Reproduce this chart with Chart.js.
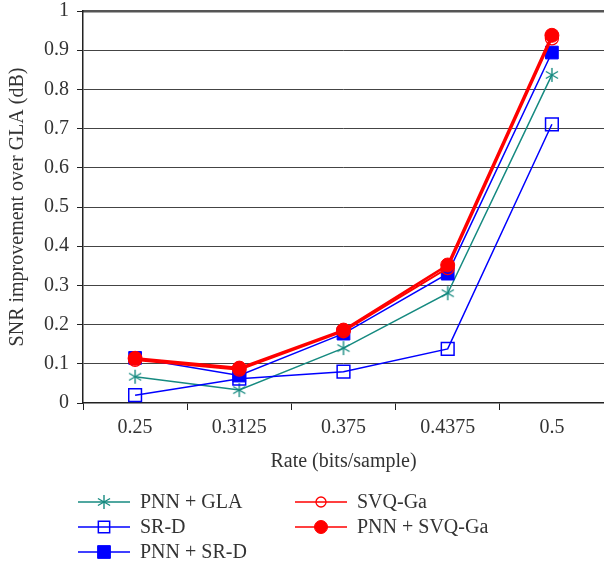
<!DOCTYPE html>
<html>
<head>
<meta charset="utf-8">
<script src="https://cdn.jsdelivr.net/npm/chart.js@4.4.1/dist/chart.umd.min.js"></script>
<style>
  html, body { margin: 0; padding: 0; background: #fff; }
</style>
</head>
<body>
<canvas id="snrChart" width="604" height="564"></canvas>
<script>
  // data
  var rates = ["0.25", "0.3125", "0.375", "0.4375", "0.5"];
  var pnnGla   = [0.067, 0.033, 0.140, 0.280, 0.837];
  var srD      = [0.020, 0.062, 0.080, 0.138, 0.711];
  var pnnSrD   = [0.115, 0.070, 0.177, 0.330, 0.894];
  var svqGa    = [0.110, 0.085, 0.183, 0.344, 0.930];
  var pnnSvqGa = [0.114, 0.089, 0.186, 0.352, 0.938];
  var yTickValues = [0, 0.1, 0.2, 0.3, 0.4, 0.5, 0.6, 0.7, 0.8, 0.9, 1];

  var SERIF = "'Liberation Serif', 'Times New Roman', serif";
  var TEAL = "#168a80", BLUE = "#0000ff", RED = "#ff0000";

  // six-armed asterisk marker
  function asterisk(color, r) {
    var c = document.createElement("canvas");
    c.width = c.height = r * 2 + 2;
    var g = c.getContext("2d");
    g.strokeStyle = color;
    g.lineWidth = 1.4;
    var cx = r + 1, cy = r + 1;
    [90, 30, 150].forEach(function (deg) {
      var a = deg * Math.PI / 180;
      g.beginPath();
      g.moveTo(cx - Math.cos(a) * r, cy - Math.sin(a) * r);
      g.lineTo(cx + Math.cos(a) * r, cy + Math.sin(a) * r);
      g.stroke();
    });
    return c;
  }

  var datasets = [
    { label: "PNN + GLA", data: pnnGla, borderColor: TEAL, backgroundColor: TEAL,
      borderWidth: 1.5, pointStyle: asterisk(TEAL, 7), pointRadius: 7, order: 4 },
    { label: "SR-D", data: srD, borderColor: BLUE, backgroundColor: "rgba(0,0,0,0)",
      borderWidth: 1.5, pointStyle: "rect", pointRadius: 9, pointBorderWidth: 1.5, order: 3 },
    { label: "PNN + SR-D", data: pnnSrD, borderColor: BLUE, backgroundColor: BLUE,
      borderWidth: 1.5, pointStyle: "rect", pointRadius: 9, pointBorderWidth: 1, order: 2 },
    { label: "SVQ-Ga", data: svqGa, borderColor: RED, backgroundColor: "rgba(0,0,0,0)",
      borderWidth: 2, pointStyle: "circle", pointRadius: 6.5, pointBorderWidth: 1.3, order: 1 },
    { label: "PNN + SVQ-Ga", data: pnnSvqGa, borderColor: RED, backgroundColor: RED,
      borderWidth: 2.5, pointStyle: "circle", pointRadius: 7, pointBorderWidth: 1, order: 0 }
  ];
  datasets.forEach(function (d) {
    d.pointBackgroundColor = d.backgroundColor;
    d.pointBorderColor = d.borderColor;
    d.tension = 0;
    d.fill = false;
  });

  // two-column legend under the plot, column-major like the figure
  var legendSpots = [
    { x: 78, y: 502 }, { x: 78, y: 527 }, { x: 78, y: 552 },
    { x: 295, y: 502 }, { x: 295, y: 527 }
  ];
  var legendMarkerRadius = [7, 8, 9, 5, 6.5];
  var figureLegend = {
    id: "figureLegend",
    afterDraw: function (chart) {
      var ctx = chart.ctx;
      ctx.save();
      chart.data.datasets.forEach(function (ds, i) {
        var p = legendSpots[i];
        ctx.strokeStyle = ds.borderColor;
        ctx.lineWidth = 1.5;
        ctx.beginPath();
        ctx.moveTo(p.x, p.y);
        ctx.lineTo(p.x + 52, p.y);
        ctx.stroke();
        ctx.fillStyle = ds.pointBackgroundColor;
        ctx.lineWidth = ds.pointBorderWidth || 1;
        Chart.helpers.drawPoint(ctx, {
          pointStyle: ds.pointStyle, radius: legendMarkerRadius[i],
          borderWidth: ds.pointBorderWidth || 1, rotation: 0
        }, p.x + 26, p.y);
        ctx.fillStyle = "#333";
        ctx.font = "20px " + SERIF;
        ctx.textBaseline = "middle";
        ctx.textAlign = "left";
        ctx.fillText(ds.label, p.x + 62, p.y + 1);
      });
      ctx.restore();
    }
  };

  function noSidePadding(s) {
    s.paddingLeft = 0;
    s.paddingRight = 0;
  }

  new Chart(document.getElementById("snrChart"), {
    type: "line",
    data: { labels: rates, datasets: datasets },
    plugins: [figureLegend],
    options: {
      responsive: false,
      animation: false,
      devicePixelRatio: 1,
      layout: { autoPadding: false, padding: { top: 11, right: 0, bottom: 86, left: 0 } },
      plugins: { legend: { display: false }, tooltip: { enabled: false } },
      scales: {
        x: {
          type: "category",
          offset: true,
          grid: { offset: true, drawOnChartArea: false, drawTicks: true, tickLength: 7, tickColor: "#222" },
          border: { display: true, color: "#222", width: 1.5 },
          ticks: { color: "#333", font: { family: SERIF, size: 20 }, padding: 6, maxRotation: 0 },
          title: { display: true, text: "Rate (bits/sample)", color: "#333",
                   font: { family: SERIF, size: 20 }, padding: { top: 0, bottom: 4 } },
          afterFit: function (s) { s.height = 75; noSidePadding(s); }
        },
        xTop: {
          type: "category",
          position: "top",
          grid: { display: false, drawTicks: false },
          border: { display: true, color: "#555", width: 2.5 },
          ticks: { display: false },
          afterFit: function (s) { s.height = 0; noSidePadding(s); }
        },
        y: {
          min: 0, max: 1,
          afterBuildTicks: function (s) {
            s.ticks = yTickValues.map(function (v) { return { value: v }; });
          },
          grid: {
            color: function (c) {
              var v = c.tick ? c.tick.value : 0;
              return (v <= 0.001 || v >= 0.999) ? "rgba(0,0,0,0)" : "#444";
            },
            borderDash: [1, 11],
            lineWidth: 1,
            tickColor: "#222",
            tickBorderDash: [],
            tickLength: 6
          },
          border: { display: true, color: "#222", width: 1.5 },
          ticks: {
            color: "#333", font: { family: SERIF, size: 20 }, padding: 8,
            callback: function (v) { return String(Math.round(v * 10) / 10); }
          },
          title: { display: true, text: "SNR improvement over GLA (dB)", color: "#333",
                   font: { family: SERIF, size: 20 }, padding: { top: 6, bottom: 0 } },
          afterFit: function (s) { s.width = 83; s.paddingTop = 0; s.paddingBottom = 0; }
        }
      }
    }
  });
</script>
</body>
</html>
